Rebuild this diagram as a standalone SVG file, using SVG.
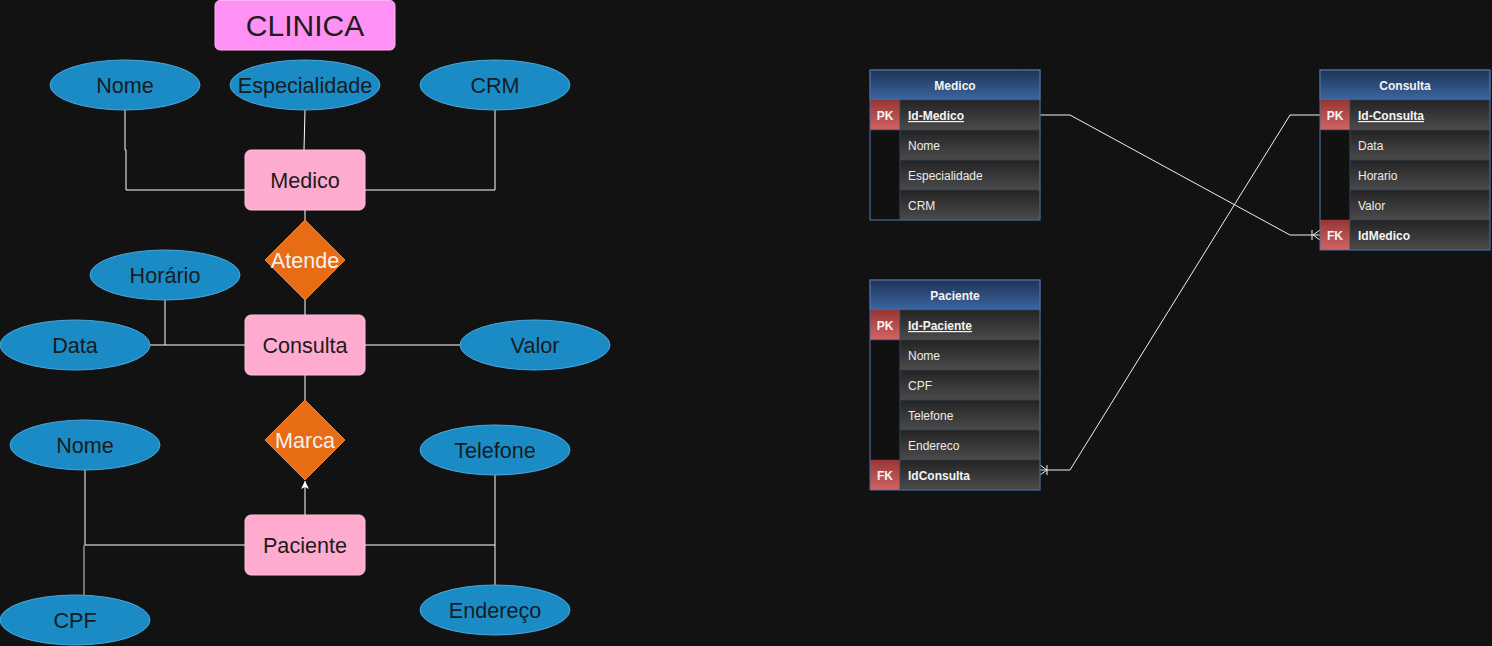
<svg xmlns="http://www.w3.org/2000/svg" width="1492" height="646" viewBox="0 0 1492 646">
<defs>
<linearGradient id="gHead" x1="0" y1="0" x2="0" y2="1"><stop offset="0" stop-color="#1e3354"/><stop offset="1" stop-color="#3c66a2"/></linearGradient>
<linearGradient id="gRow" x1="0" y1="0" x2="0" y2="1"><stop offset="0" stop-color="#232323"/><stop offset="1" stop-color="#4b4b4b"/></linearGradient>
<linearGradient id="gKey" x1="0" y1="0" x2="0" y2="1"><stop offset="0" stop-color="#963636"/><stop offset="1" stop-color="#d26464"/></linearGradient>
<marker id="arr" markerWidth="10" markerHeight="10" refX="8" refY="5" orient="auto" markerUnits="userSpaceOnUse"><path d="M0,1 L8,5 L0,9 L2,5 Z" fill="#ffffff"/></marker>
</defs>
<style>
.er{font-family:"Liberation Sans",Arial,sans-serif;font-size:21.6px;text-anchor:middle}
.attr ellipse{fill:#1b8bc5;stroke:#4aa8da;stroke-width:1}
.attr text{fill:#161c22}
.ent rect{fill:#ffabcf;stroke:#ffc2dd;stroke-width:1}
.ent text{fill:#1c1c1c}
.rel polygon{fill:#e86c14;stroke:#f08838;stroke-width:1}
.rel text{fill:#f2f2f2}
.ln{stroke:#ffffff;stroke-width:1;fill:none}
.tb{font-family:"Liberation Sans",Arial,sans-serif;font-size:12px}
.hd{fill:url(#gHead);stroke:#4a6c9c;stroke-width:1}
.hdt{fill:#f4f4f4;font-weight:bold;text-anchor:middle}
.row{fill:url(#gRow);stroke:#34445a;stroke-width:0.8}
.key{fill:url(#gKey)}
.blk{fill:#111111;stroke:#2c3a50;stroke-width:0.8}
.kt{fill:#f4f4f4;font-weight:bold;text-anchor:middle}
.rt{fill:#ececec}
.bt{fill:#f4f4f4;font-weight:bold}
.frame{fill:none;stroke:#4a6c9c;stroke-width:1}
.rc{stroke:#f0f0f0;stroke-width:1;fill:none}
</style>
<rect x="0" y="0" width="1492" height="646" fill="#121212"/>

<g id="connectors">
<polyline class="ln" points="125,110 125,150 126,150 126,190 245,190"/>
<polyline class="ln" points="305,110 304,150"/>
<polyline class="ln" points="495,110 495,190 365,190"/>
<line class="ln" x1="305" y1="210" x2="305" y2="220"/>
<line class="ln" x1="305" y1="300" x2="305" y2="315"/>
<polyline class="ln" points="165,300 165,345"/>
<line class="ln" x1="150" y1="345" x2="245" y2="345"/>
<line class="ln" x1="365" y1="345" x2="460" y2="345"/>
<line class="ln" x1="305" y1="375" x2="305" y2="400"/>
<line class="ln" x1="305" y1="515" x2="305" y2="481" marker-end="url(#arr)"/>
<polyline class="ln" points="85,470 85,545 245,545"/>
<line x1="84" y1="545" x2="84" y2="600" stroke="#cfcfcf" stroke-width="1"/>
<polyline class="ln" points="365,545 495,545"/>
<line class="ln" x1="495" y1="475" x2="495" y2="585"/>
<polyline class="rc" points="1040,115 1070,115 1290,235 1320,235"/>
<line class="rc" x1="1312" y1="230" x2="1312" y2="240"/>
<polyline class="rc" points="1320,230 1313,235 1320,240"/>
<polyline class="rc" points="1320,115 1290,115 1070,470 1040,470"/>
<line class="rc" x1="1047" y1="465" x2="1047" y2="475"/>
<polyline class="rc" points="1040,465 1047,470 1040,475"/>
</g>

<g id="clinica">
<rect x="215" y="0.5" width="180" height="49.5" rx="5" fill="#ff91f4" stroke="#ffb0f8" stroke-width="1"/>
<text x="305" y="36" font-family="Liberation Sans,Arial,sans-serif" font-size="30" text-anchor="middle" fill="#1c1c1c">CLINICA</text>
</g>

<g id="attr-medico-nome" class="attr er"><ellipse cx="125" cy="85" rx="75" ry="25"/><text x="125" y="93">Nome</text></g>
<g id="attr-especialidade" class="attr er"><ellipse cx="305" cy="85" rx="75" ry="25"/><text x="305" y="93">Especialidade</text></g>
<g id="attr-crm" class="attr er"><ellipse cx="495" cy="85" rx="75" ry="25"/><text x="495" y="93">CRM</text></g>
<g id="ent-medico" class="ent er"><rect x="245" y="150" width="120" height="60" rx="6"/><text x="305" y="188">Medico</text></g>
<g id="rel-atende" class="rel er"><polygon points="305,220 345,260 305,300 265,260"/><text x="305" y="268">Atende</text></g>
<g id="attr-horario" class="attr er"><ellipse cx="165" cy="275" rx="75" ry="25"/><text x="165" y="283">Horário</text></g>
<g id="attr-data" class="attr er"><ellipse cx="75" cy="345" rx="75" ry="25"/><text x="75" y="353">Data</text></g>
<g id="ent-consulta" class="ent er"><rect x="245" y="315" width="120" height="60" rx="6"/><text x="305" y="353">Consulta</text></g>
<g id="attr-valor" class="attr er"><ellipse cx="535" cy="345" rx="75" ry="25"/><text x="535" y="353">Valor</text></g>
<g id="rel-marca" class="rel er"><polygon points="305,400 345,440 305,480 265,440"/><text x="305" y="448">Marca</text></g>
<g id="attr-paciente-nome" class="attr er"><ellipse cx="85" cy="445" rx="75" ry="25"/><text x="85" y="453">Nome</text></g>
<g id="attr-telefone" class="attr er"><ellipse cx="495" cy="450" rx="75" ry="25"/><text x="495" y="458">Telefone</text></g>
<g id="ent-paciente" class="ent er"><rect x="245" y="515" width="120" height="60" rx="6"/><text x="305" y="553">Paciente</text></g>
<g id="attr-cpf" class="attr er"><ellipse cx="75" cy="620" rx="75" ry="25"/><text x="75" y="628">CPF</text></g>
<g id="attr-endereco" class="attr er"><ellipse cx="495" cy="610" rx="75" ry="25"/><text x="495" y="618">Endereço</text></g>

<g id="tbl-medico" class="tb">
<rect class="hd" x="870" y="70" width="170" height="30"/>
<text class="hdt" x="955" y="90">Medico</text>
<rect class="key" x="870" y="100" width="30" height="30"/><text class="kt" x="885" y="120">PK</text>
<rect class="row" x="900" y="100" width="140" height="30"/><text class="bt" x="908" y="120" text-decoration="underline">Id-Medico</text>
<rect class="blk" x="870" y="130" width="30" height="90"/>
<rect class="row" x="900" y="130" width="140" height="30"/><text class="rt" x="908" y="150">Nome</text>
<rect class="row" x="900" y="160" width="140" height="30"/><text class="rt" x="908" y="180">Especialidade</text>
<rect class="row" x="900" y="190" width="140" height="30"/><text class="rt" x="908" y="210">CRM</text>
<rect class="frame" x="870" y="70" width="170" height="150"/>
</g>

<g id="tbl-consulta" class="tb">
<rect class="hd" x="1320" y="70" width="170" height="30"/>
<text class="hdt" x="1405" y="90">Consulta</text>
<rect class="key" x="1320" y="100" width="30" height="30"/><text class="kt" x="1335" y="120">PK</text>
<rect class="row" x="1350" y="100" width="140" height="30"/><text class="bt" x="1358" y="120" text-decoration="underline">Id-Consulta</text>
<rect class="blk" x="1320" y="130" width="30" height="90"/>
<rect class="row" x="1350" y="130" width="140" height="30"/><text class="rt" x="1358" y="150">Data</text>
<rect class="row" x="1350" y="160" width="140" height="30"/><text class="rt" x="1358" y="180">Horario</text>
<rect class="row" x="1350" y="190" width="140" height="30"/><text class="rt" x="1358" y="210">Valor</text>
<rect class="key" x="1320" y="220" width="30" height="30"/><text class="kt" x="1335" y="240">FK</text>
<rect class="row" x="1350" y="220" width="140" height="30"/><text class="bt" x="1358" y="240">IdMedico</text>
<rect class="frame" x="1320" y="70" width="170" height="180"/>
</g>

<g id="tbl-paciente" class="tb">
<rect class="hd" x="870" y="280" width="170" height="30"/>
<text class="hdt" x="955" y="300">Paciente</text>
<rect class="key" x="870" y="310" width="30" height="30"/><text class="kt" x="885" y="330">PK</text>
<rect class="row" x="900" y="310" width="140" height="30"/><text class="bt" x="908" y="330" text-decoration="underline">Id-Paciente</text>
<rect class="blk" x="870" y="340" width="30" height="120"/>
<rect class="row" x="900" y="340" width="140" height="30"/><text class="rt" x="908" y="360">Nome</text>
<rect class="row" x="900" y="370" width="140" height="30"/><text class="rt" x="908" y="390">CPF</text>
<rect class="row" x="900" y="400" width="140" height="30"/><text class="rt" x="908" y="420">Telefone</text>
<rect class="row" x="900" y="430" width="140" height="30"/><text class="rt" x="908" y="450">Endereco</text>
<rect class="key" x="870" y="460" width="30" height="30"/><text class="kt" x="885" y="480">FK</text>
<rect class="row" x="900" y="460" width="140" height="30"/><text class="bt" x="908" y="480">IdConsulta</text>
<rect class="frame" x="870" y="280" width="170" height="210"/>
</g>
</svg>
